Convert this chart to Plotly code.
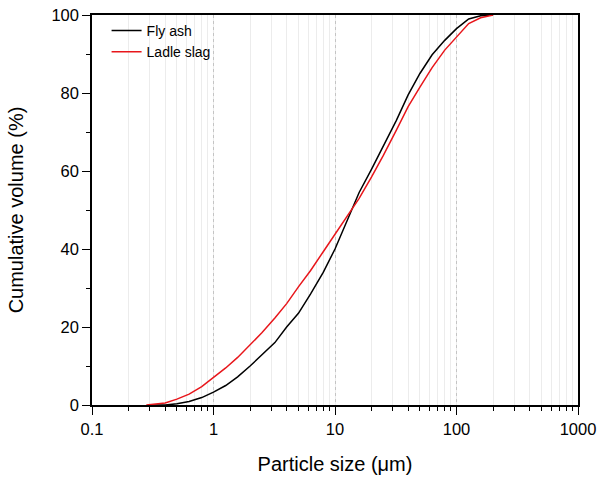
import plotly.graph_objects as go

# Particle size (um) for the cumulative distributions
size_fly = [0.3, 0.4, 0.5, 0.63, 0.8, 1.0, 1.26, 1.58, 2.0, 2.5, 3.2, 4.0, 5.0, 6.3, 8.0,
            10, 12.6, 15.8, 20, 25, 32, 40, 50, 63, 80, 100, 126, 158, 200]
fly_ash = [0, 0, 0.3, 0.9, 1.9, 3.3, 5.0, 7.2, 10.0, 12.8, 16.0, 20.0, 23.5, 28.5, 34.0,
           40.0, 47.5, 54.5, 60.5, 66.3, 73.0, 79.5, 85.0, 89.8, 93.5, 96.5, 99.0, 99.8, 100]

size_slag = [0.28, 0.4, 0.5, 0.63, 0.8, 1.0, 1.26, 1.58, 2.0, 2.5, 3.2, 4.0, 5.0, 6.3, 8.0,
             10, 12.6, 15.8, 20, 25, 32, 40, 50, 63, 80, 100, 126, 158, 200]
ladle_slag = [0, 0.5, 1.5, 2.8, 4.7, 7.0, 9.5, 12.2, 15.3, 18.5, 22.3, 26.0, 30.3, 34.5, 39.3,
              43.8, 48.5, 53.0, 58.5, 64.0, 70.5, 76.5, 81.5, 86.5, 91.0, 94.3, 97.8, 99.3, 100]

x_ticks = [0.1, 1, 10, 100, 1000]
x_ticktext = ["0.1", "1", "10", "100", "1000"]
y_ticks = [0, 20, 40, 60, 80, 100]

font = "Liberation Sans, Arial, sans-serif"

fig = go.Figure()
fig.add_trace(go.Scatter(x=size_fly, y=fly_ash, mode="lines", name="Fly ash",
                         line=dict(color="black", width=1.5)))
fig.add_trace(go.Scatter(x=size_slag, y=ladle_slag, mode="lines", name="Ladle slag",
                         line=dict(color="#e8161b", width=1.5)))

fig.update_layout(
    width=600, height=477,
    margin=dict(l=92, r=22, t=15, b=72),
    paper_bgcolor="white", plot_bgcolor="white",
    font=dict(family=font, color="black"),
    legend=dict(x=0.03, y=1.0, xanchor="left", yanchor="top",
                bgcolor="rgba(0,0,0,0)", font=dict(size=14), tracegroupgap=0),
    xaxis=dict(
        type="log", range=[-1, 3], automargin=False,
        tickmode="array", tickvals=x_ticks, ticktext=x_ticktext,
        ticks="outside", ticklen=8, tickwidth=1.3, tickcolor="black",
        tickfont=dict(size=16.5),
        showline=True, linecolor="black", linewidth=1.5, mirror=True,
        showgrid=True, gridcolor="#c4c4c4", griddash="3px,3px", gridwidth=1,
        minor=dict(ticks="outside", ticklen=4, tickwidth=1.1, tickcolor="black",
                   dtick="D1", showgrid=True, gridcolor="#ececec", gridwidth=1,
                   griddash="solid"),
        title=dict(text="Particle size (μm)", font=dict(size=20), standoff=20),
        zeroline=False,
    ),
    yaxis=dict(
        range=[0, 100], automargin=False,
        tickmode="array", tickvals=y_ticks,
        ticks="outside", ticklen=8, tickwidth=1.3, tickcolor="black",
        tickfont=dict(size=16.5),
        showline=True, linecolor="black", linewidth=1.5, mirror=True,
        showgrid=False, zeroline=False,
        minor=dict(ticks="outside", ticklen=4, tickwidth=1.1, tickcolor="black", dtick=10),
        title=dict(text="Cumulative volume (%)", font=dict(size=20), standoff=22),
    ),
)

fig.write_html("out.html")
